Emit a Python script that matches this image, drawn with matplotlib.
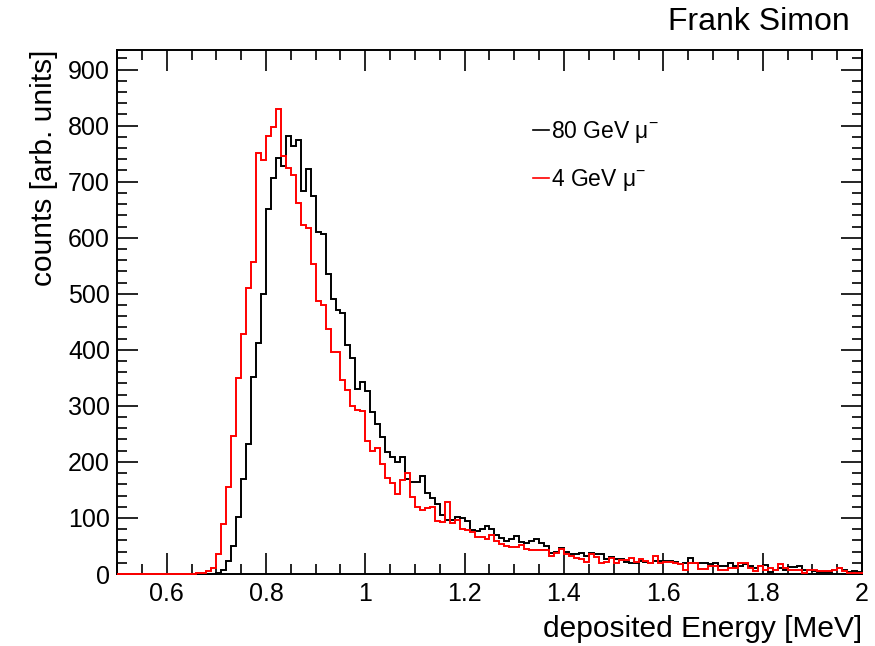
import numpy as np
import matplotlib
matplotlib.use("Agg")
import matplotlib.pyplot as plt
from matplotlib.ticker import MultipleLocator, FuncFormatter
from matplotlib.lines import Line2D

plt.rcParams['font.family'] = ['Liberation Sans', 'DejaVu Sans']
plt.rcParams['mathtext.fontset'] = 'custom'
plt.rcParams['mathtext.rm'] = 'Liberation Sans'

# Histogram binning: 150 bins from 0.5 to 2.0 MeV
x_min, x_max, n_bins = 0.5, 2.0, 150

# 80 GeV muons (black), bins 0.50 .. 1.99
counts_80 = (
    [0] * 20 +
    [2, 8, 23, 50, 102, 169, 232, 352, 412, 499,
     652, 706, 742, 728, 781, 763, 775, 684, 723, 675,
     611, 607, 536, 491, 471, 466, 408, 386, 330, 342,
     326, 289, 268, 244, 217, 209, 199, 208, 170, 165,
     165, 174, 145, 136, 125, 105, 96, 96, 102, 100,
     94, 78, 77, 80, 86, 80, 70, 64, 58, 62,
     68, 57, 56, 58, 62, 55, 50, 38, 40, 47] +
    [40, 35, 36, 37, 32, 37, 35, 36, 26, 30,
     27, 27, 22, 19, 20, 23, 21, 20, 23, 24,
     23, 23, 21, 18, 20, 28, 20, 20, 20, 18,
     20, 14, 14, 20, 15, 15, 17, 15, 11, 15,
     16, 3, 8, 11, 7, 12, 13, 14, 8, 8,
     5, 3, 3, 4, 8, 11, 8, 3, 5, 3]
)

# 4 GeV muons (red), bins 0.50 .. 1.99
counts_4 = (
    [0] * 16 +
    [1, 2, 5, 11, 36, 90, 156, 246, 350, 429,
     510, 557, 752, 739, 781, 797, 830, 745, 724, 712,
     662, 623, 617, 554, 487, 480, 438, 396, 396, 346,
     329, 300, 293, 290, 238, 220, 225, 196, 172, 163,
     143, 168, 181, 137, 120, 114, 118, 120, 95, 93,
     129, 91, 97, 80, 78, 75, 66, 66, 62, 70,
     59, 53, 50, 49, 49, 52, 44, 43, 43, 43,
     43, 32, 38, 44] +
    [35, 32, 29, 26, 22, 35, 30, 20, 21, 28,
     19, 25, 25, 29, 22, 27, 23, 20, 32, 19,
     21, 21, 20, 17, 7, 20, 20, 9, 9, 14,
     14, 8, 8, 11, 11, 20, 20, 11, 5, 14,
     8, 11, 8, 18, 10, 7, 7, 8, 2, 7,
     7, 5, 5, 5, 7, 10, 5, 2, 2, 2]
)

labels = ["80 GeV μ$^{-}$", "4 GeV μ$^{-}$"]
colors = ["black", "red"]

edges = np.linspace(x_min, x_max, n_bins + 1)

W, H = 875, 646
fig = plt.figure(figsize=(W / 100, H / 100), dpi=100)
ax = fig.add_axes([117 / W, 1 - 574 / H, (862 - 117) / W, (574 - 50) / H])

ax.stairs(counts_80, edges, color=colors[0], lw=1.4, clip_on=False, zorder=3)
ax.stairs(counts_4, edges, color=colors[1], lw=1.4, clip_on=False, zorder=3)

ax.set_xlim(x_min, x_max)
ax.set_ylim(0, 935)

ax.xaxis.set_major_locator(MultipleLocator(0.2))
ax.xaxis.set_minor_locator(MultipleLocator(0.05))
ax.yaxis.set_major_locator(MultipleLocator(100))
ax.yaxis.set_minor_locator(MultipleLocator(20))
ax.xaxis.set_major_formatter(FuncFormatter(lambda v, p: f"{v:g}"))

ax.tick_params(which='both', direction='in', top=True, right=True,
               width=1.2, labelsize=18)
ax.tick_params(which='major', length=15)
ax.tick_params(which='minor', length=7.5)
ax.tick_params(axis='x', pad=6)
ax.tick_params(axis='y', pad=5)
for s in ax.spines.values():
    s.set_linewidth(1.4)

ax.set_xlabel("deposited Energy [MeV]", fontsize=21.5, loc='right', labelpad=6)
ax.set_ylabel("counts [arb. units]", fontsize=21.5, loc='top', labelpad=7)

handles = [Line2D([], [], color=c, lw=1.2) for c in colors]
ax.legend(handles, labels, loc='upper left', bbox_to_anchor=(0.543, 0.89),
          frameon=False, fontsize=16.5, handlelength=0.7, handletextpad=0.1,
          labelspacing=0.95, borderpad=0)

fig.text(850 / W, 1 - 22 / H, "Frank Simon", fontsize=23, ha='right', va='center')

fig.savefig("out.png", dpi=100)
